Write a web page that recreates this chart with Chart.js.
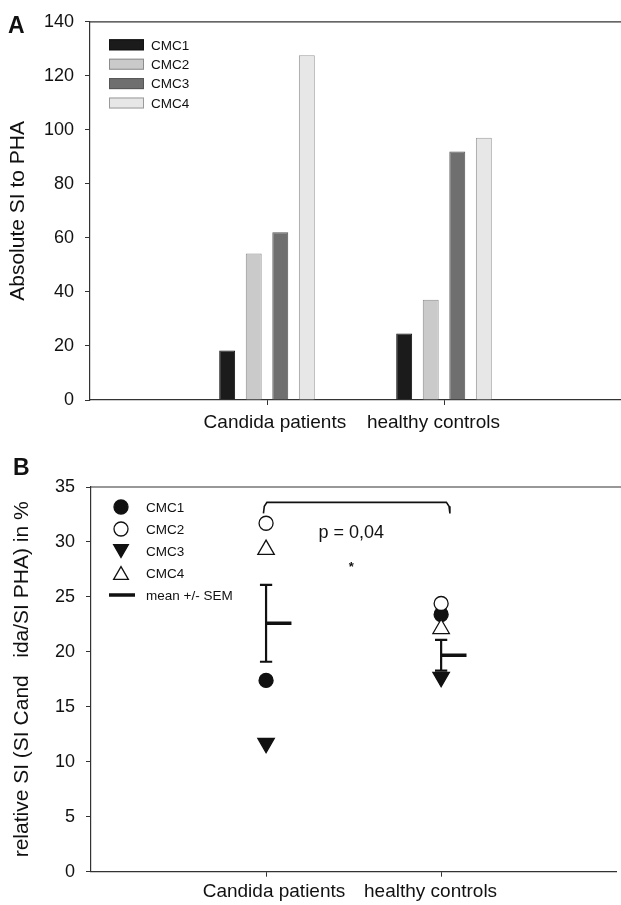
<!DOCTYPE html>
<html>
<head>
<meta charset="utf-8">
<script src="https://cdn.jsdelivr.net/npm/chart.js@4.4.1/dist/chart.umd.min.js"></script>
<style>
  html, body { margin: 0; padding: 0; background: #fff; overflow: hidden; }
  #page { position: relative; width: 621px; height: 905px; overflow: hidden; }
  .panel { position: absolute; left: 0; width: 627px; }
  #panelA { top: 0; height: 440px; }
  #panelB { top: 440px; height: 465px; }
  .tag { position: absolute; font-family: "Liberation Sans", Arial, sans-serif; font-weight: bold;
         font-size: 23px; line-height: 1; color: #111; }
</style>
</head>
<body>
<div id="page">
  <div class="panel" id="panelA"><canvas id="chartA"></canvas></div>
  <div class="panel" id="panelB"><canvas id="chartB"></canvas></div>
  <div class="tag" style="left:8px;top:14px;">A</div>
  <div class="tag" style="left:13px;top:456px;">B</div>
</div>
<script>
// datos
const groups = ['Candida patients', 'healthy controls'];
const seriesNames = ['CMC1', 'CMC2', 'CMC3', 'CMC4'];

// A: SI absoluto frente a PHA
const cmc1Abs = [18.3, 24.6];
const cmc2Abs = [54.2, 37.1];
const cmc3Abs = [62.1, 92.0];
const cmc4Abs = [127.6, 97.1];

// B: SI relativo (%)
const cmc1Rel = [17.4, 23.4];
const cmc2Rel = [31.7, 24.4];
const cmc3Rel = [11.7, 17.7];
const cmc4Rel = [29.3, 22.1];
const meanRel = [22.6, 19.7];
const semRel = [3.5, 1.4];

const pValueText = 'p = 0,04';

const FONT = '"Liberation Sans", Arial, Helvetica, sans-serif';
const INK = '#111';
const AXIS = '#333';

const barFill = ['#1b1b1b', '#cacaca', '#6f6f6f', '#e7e7e7'];
const barEdge = ['#111', '#8c8c8c', '#555', '#9a9a9a'];

// linea superior del marco
const framePlugin = {
    id: 'frameTop',
    afterDraw(chart) {
        const { ctx, chartArea } = chart;
        ctx.save();
        ctx.strokeStyle = AXIS;
        ctx.lineWidth = 1.2;
        ctx.beginPath();
        ctx.moveTo(chartArea.left, chartArea.top);
        ctx.lineTo(chart.width, chartArea.top);
        ctx.stroke();
        ctx.restore();
    }
};

const drawMarker = (ctx, kind, x, y, ds) => {
    ctx.save();
    if (kind === 'box') {
        ctx.fillStyle = ds.backgroundColor;
        ctx.strokeStyle = ds.borderColor;
        ctx.lineWidth = 1;
        ctx.fillRect(x, y - 5.5, 35, 11);
        ctx.strokeRect(x + 0.5, y - 5, 34, 10);
    } else if (kind === 'line') {
        ctx.strokeStyle = INK;
        ctx.lineWidth = 3.5;
        ctx.beginPath();
        ctx.moveTo(x - 12, y);
        ctx.lineTo(x + 14, y);
        ctx.stroke();
    } else {
        ctx.fillStyle = ds.backgroundColor;
        ctx.strokeStyle = ds.borderColor;
        ctx.lineWidth = ds.borderWidth;
        ctx.beginPath();
        if (ds.pointStyle === 'circle') {
            ctx.arc(x, y, 7, 0, Math.PI * 2);
        } else {
            const r = 8.5;
            const dir = ds.rotation === 180 ? -1 : 1;
            const cy = y + dir * r * 0.25;
            ctx.moveTo(x, cy - dir * r);
            ctx.lineTo(x + r * 0.866, cy + dir * r * 0.5);
            ctx.lineTo(x - r * 0.866, cy + dir * r * 0.5);
            ctx.closePath();
        }
        ctx.fill();
        ctx.stroke();
    }
    ctx.restore();
};

// leyenda dentro del area de la grafica
const insideLegend = {
    id: 'insideLegend',
    afterDraw(chart, args, opts) {
        if (!opts.rows) return;
        const { ctx, chartArea } = chart;
        opts.rows.forEach((row, i) => {
            const y = chartArea.top + opts.top + i * opts.gap;
            const ds = row.dataset != null ? chart.data.datasets[row.dataset] : {};
            drawMarker(ctx, row.kind, chartArea.left + opts.left, y, ds);
            ctx.save();
            ctx.font = '13.5px ' + FONT;
            ctx.fillStyle = INK;
            ctx.textBaseline = 'middle';
            ctx.fillText(row.label, chartArea.left + opts.textLeft, y + 1);
            ctx.restore();
        });
    }
};

// textos en coordenadas de datos
const dataText = {
    id: 'dataText',
    afterDraw(chart, args, opts) {
        if (!opts.items) return;
        const { ctx, scales } = chart;
        opts.items.forEach(item => {
            ctx.save();
            ctx.font = item.font;
            ctx.fillStyle = INK;
            ctx.textAlign = 'center';
            ctx.textBaseline = 'middle';
            ctx.fillText(item.text, scales.x.getPixelForValue(item.x), scales.y.getPixelForValue(item.y));
            ctx.restore();
        });
    }
};

Chart.register(framePlugin, insideLegend, dataText);

const tickFont = { family: FONT, size: 18 };
const labelFont = { family: FONT, size: 19 };
const titleFont = { family: FONT, size: 21 };

// ---- A: barras ----
const padded = arr => [null, ...arr, null];
const absSeries = [cmc1Abs, cmc2Abs, cmc3Abs, cmc4Abs];

new Chart(document.getElementById('chartA'), {
    type: 'bar',
    data: {
        labels: ['', ...groups, ''],
        datasets: absSeries.map((vals, i) => ({
            label: seriesNames[i],
            data: padded(vals),
            backgroundColor: barFill[i],
            borderColor: barEdge[i],
            borderWidth: 1,
            categoryPercentage: 0.6,
            barPercentage: 0.6
        }))
    },
    options: {
        responsive: true,
        maintainAspectRatio: false,
        animation: false,
        events: [],
        layout: { padding: { top: 17, left: 0, right: 0, bottom: 0 } },
        plugins: {
            legend: { display: false },
            tooltip: { enabled: false },
            insideLegend: {
                left: 19, textLeft: 61, top: 23, gap: 19.4,
                rows: seriesNames.map((n, i) => ({ kind: 'box', label: n, dataset: i }))
            }
        },
        scales: {
            x: {
                offset: false,
                afterFit: s => { s.height = 40; },
                border: { display: true, color: AXIS, width: 1.2 },
                grid: {
                    offset: false,
                    drawOnChartArea: false, drawTicks: true, tickLength: 5,
                    color: c => (c.index === 1 || c.index === 2) ? AXIS : 'rgba(0,0,0,0)'
                },
                ticks: {
                    font: labelFont, color: INK, padding: 6, maxRotation: 0, autoSkip: false,
                    callback: function (v, i) {
                        const l = this.getLabelForValue(v);
                        if (i === 1) return '   ' + l;
                        if (i === 2) return l + '    ';
                        return l;
                    }
                }
            },
            y: {
                min: 0, max: 140,
                afterFit: s => { s.width = 90; },
                border: { display: true, color: AXIS, width: 1.2 },
                grid: { drawOnChartArea: false, drawTicks: true, tickLength: 5, color: AXIS },
                ticks: { stepSize: 20, font: tickFont, color: INK, padding: 11 },
                title: { display: true, text: 'Absolute SI to PHA', font: titleFont, color: INK, padding: { top: 6, bottom: 0 } }
            }
        }
    }
});

// ---- B: puntos con media +/- SEM ----
const relSeries = [cmc1Rel, cmc2Rel, cmc3Rel, cmc4Rel];
const pointLook = [
    { pointStyle: 'circle', rotation: 0, radius: 7, fill: '#111' },
    { pointStyle: 'circle', rotation: 0, radius: 7, fill: '#fff' },
    { pointStyle: 'triangle', rotation: 180, radius: 9.5, fill: '#111' },
    { pointStyle: 'triangle', rotation: 0, radius: 9.5, fill: '#fff' }
];

const gap = { x: NaN, y: null };
const meanSegs = [];
const semSegs = [];
groups.forEach((g, i) => {
    const x = i + 1;
    const top = meanRel[i] + semRel[i];
    const bot = meanRel[i] - semRel[i];
    meanSegs.push({ x: x, y: meanRel[i] }, { x: x + 0.145, y: meanRel[i] }, gap);
    semSegs.push({ x: x, y: top }, { x: x, y: bot }, gap,
        { x: x - 0.035, y: top }, { x: x + 0.035, y: top }, gap,
        { x: x - 0.035, y: bot }, { x: x + 0.035, y: bot }, gap);
});

// corchete de significancia entre ambos grupos
const bracketY = 33.6;
const bracketDrop = 1.0;
const bracket = [
    { x: 0.985, y: bracketY - bracketDrop },
    { x: 0.99, y: bracketY - 0.35 },
    { x: 1.005, y: bracketY },
    { x: 2.03, y: bracketY },
    { x: 2.045, y: bracketY - 0.35 },
    { x: 2.05, y: bracketY - bracketDrop }
];

const lineDs = (data, width, order) => ({
    type: 'line', data, showLine: true, spanGaps: false, pointRadius: 0,
    borderColor: INK, backgroundColor: INK, borderWidth: width, order, fill: false
});

new Chart(document.getElementById('chartB'), {
    type: 'scatter',
    data: {
        datasets: [
            ...relSeries.map((vals, i) => ({
                label: seriesNames[i],
                data: vals.map((v, j) => ({ x: j + 1, y: v })),
                pointStyle: pointLook[i].pointStyle,
                rotation: pointLook[i].rotation,
                pointRadius: pointLook[i].radius,
                backgroundColor: pointLook[i].fill,
                borderColor: '#111',
                borderWidth: 1.3,
                order: 4 - i
            })),
            lineDs(meanSegs, 3.5, 10),
            lineDs(semSegs, 2.2, 11),
            lineDs(bracket, 1.6, 12)
        ]
    },
    options: {
        responsive: true,
        maintainAspectRatio: false,
        animation: false,
        events: [],
        layout: { padding: { top: 47, left: 0, right: 0, bottom: 0 } },
        plugins: {
            legend: { display: false },
            tooltip: { enabled: false },
            insideLegend: {
                left: 30, textLeft: 55, top: 20, gap: 22,
                rows: [
                    ...seriesNames.map((n, i) => ({ kind: 'point', label: n, dataset: i })),
                    { kind: 'line', label: 'mean +/- SEM' }
                ]
            },
            dataText: {
                items: [
                    { text: pValueText, x: 1.487, y: 30.8, font: '18px ' + FONT },
                    { text: '*', x: 1.487, y: 27.7, font: 'bold 13px ' + FONT }
                ]
            }
        },
        scales: {
            x: {
                type: 'linear', min: 0, max: 3,
                afterFit: s => { s.height = 33.3; },
                border: { display: true, color: AXIS, width: 1.2 },
                grid: {
                    drawOnChartArea: false, drawTicks: true, tickLength: 5,
                    color: c => (c.tick && (c.tick.value === 1 || c.tick.value === 2)) ? AXIS : 'rgba(0,0,0,0)'
                },
                ticks: {
                    stepSize: 1, font: labelFont, color: INK, padding: 4, maxRotation: 0, autoSkip: false,
                    callback: v => {
                        if (v === 1) return '   ' + groups[0];
                        if (v === 2) return groups[1] + '    ';
                        return '';
                    }
                }
            },
            y: {
                min: 0, max: 35,
                afterFit: s => { s.width = 91; },
                border: { display: true, color: AXIS, width: 1.2 },
                grid: { drawOnChartArea: false, drawTicks: true, tickLength: 5, color: AXIS },
                ticks: { stepSize: 5, font: tickFont, color: INK, padding: 11 },
                title: {
                    display: true, text: 'relative SI (SI Cand   ida/SI PHA) in %',
                    font: titleFont, color: INK, padding: { top: 10, bottom: 0 }
                }
            }
        }
    }
});
</script>
</body>
</html>
